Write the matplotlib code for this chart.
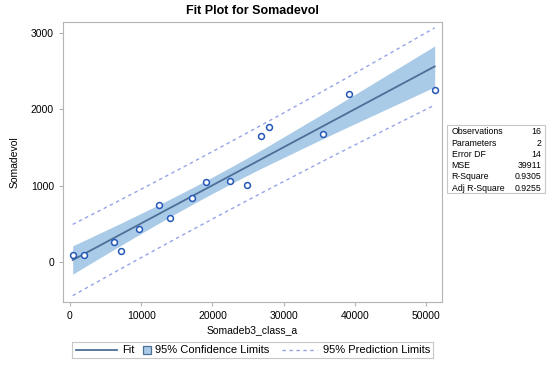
import numpy as np
import matplotlib.pyplot as plt
from matplotlib.patches import Rectangle

plt.rcParams['font.family'] = ['Liberation Sans', 'DejaVu Sans']

# values
somadeb = [380, 2010, 6180, 7160, 9650, 12460, 14040, 17130, 19060, 22520,
           24860, 26780, 27900, 35530, 39190, 51220]
somadevol = [96, 96, 266, 148, 432, 747, 572, 838, 1048, 1061,
             1013, 1651, 1774, 1682, 2206, 2254]

stat_names = ['Observations', 'Parameters', 'Error DF', 'MSE', 'R-Square', 'Adj R-Square']
stat_values = ['16', '2', '14', '39911', '0.9305', '0.9255']

legend_labels = ['Fit', '95% Confidence Limits', '95% Prediction Limits']

x = np.array(somadeb, dtype=float)
y = np.array(somadevol, dtype=float)
n = len(x)

# simple linear regression, limits at the data x values (like SAS)
b1, b0 = np.polyfit(x, y, 1)
mse = 39911.0
t = 2.1448  # t(0.975, 14)
xs = np.sort(x)
fit = b0 + b1 * xs
sxx = ((x - x.mean()) ** 2).sum()
lev = 1.0 / n + (xs - x.mean()) ** 2 / sxx
ci = t * np.sqrt(mse * lev)
pi = t * np.sqrt(mse * (1 + lev))

W, H = 550, 366
fig = plt.figure(figsize=(W / 100, H / 100), dpi=100)
ax = fig.add_axes([63 / W, 1 - 302 / H, 378.7 / W, 280 / H])

band_col = '#aacbe8'
fit_col = '#4b6f96'
pred_col = '#96a3e8'
pt_col = '#2457b8'
dash = (0, (2.5, 2.5))

ax.fill_between(xs, fit - ci, fit + ci, color=band_col, lw=0, zorder=1)
ax.plot(xs, fit, color=fit_col, lw=1.3, zorder=2)
ax.plot(xs, fit + pi, color=pred_col, lw=1, ls=dash, zorder=2)
ax.plot(xs, fit - pi, color=pred_col, lw=1, ls=dash, zorder=2)
ax.scatter(x, y, s=18, facecolors='white', edgecolors=pt_col, linewidths=1.1, zorder=3)

ax.set_xlim(-980, 52200)
ax.set_ylim(-524, 3145)
ax.set_xticks([0, 10000, 20000, 30000, 40000, 50000])
ax.set_yticks([0, 1000, 2000, 3000])
for s in ax.spines.values():
    s.set_color('#b4b4b4')
ax.tick_params(colors='#b4b4b4', labelcolor='black', labelsize=7.5, length=3, width=0.8)

ax.set_title('Fit Plot for Somadevol', fontsize=9, fontweight='bold', pad=6)
ax.set_xlabel('Somadeb3_class_a', fontsize=7.5, labelpad=3)
ax.set_ylabel('Somadevol', fontsize=7.5, labelpad=8)

# statistics table
fig.patches.append(Rectangle((447 / W, 1 - 193 / H), 98 / W, 68 / H,
                             transform=fig.transFigure, fill=False,
                             edgecolor='#c8c8c8', lw=0.8))
row_y = [131.7, 143.3, 154.7, 165.7, 176.7, 188.3]
for name, val, ry in zip(stat_names, stat_values, row_y):
    fig.text(451.5 / W, 1 - ry / H, name, fontsize=6.3, va='center', ha='left')
    fig.text(541.5 / W, 1 - ry / H, val, fontsize=6.3, va='center', ha='right')

# legend drawn in a pixel-scaled overlay axes
lx0, lx1, ly0, ly1 = 72, 433, 342, 358
lax = fig.add_axes([lx0 / W, 1 - ly1 / H, (lx1 - lx0) / W, (ly1 - ly0) / H])
lax.set_xlim(lx0, lx1)
lax.set_ylim(ly1, ly0)
lax.set_xticks([])
lax.set_yticks([])
for s in lax.spines.values():
    s.set_color('#c8c8c8')
    s.set_linewidth(0.8)
yc = 350
lax.plot([76, 117], [yc, yc], color=fit_col, lw=1.3)
lax.text(122, yc, legend_labels[0], fontsize=8, va='center', ha='left')
lax.add_patch(Rectangle((143, yc - 4), 8, 8, facecolor=band_col, edgecolor=fit_col, lw=0.9))
lax.text(155, yc, legend_labels[1], fontsize=8, va='center', ha='left')
lax.plot([282, 317], [yc, yc], color=pred_col, lw=1, ls=dash)
lax.text(323, yc, legend_labels[2], fontsize=8, va='center', ha='left')

fig.savefig('out.png', dpi=100)
